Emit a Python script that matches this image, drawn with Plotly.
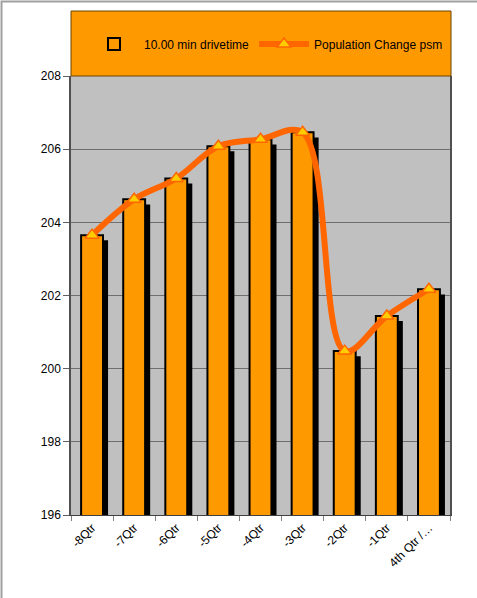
import plotly.graph_objects as go

categories = ["-8Qtr", "-7Qtr", "-6Qtr", "-5Qtr", "-4Qtr", "-3Qtr", "-2Qtr", "-1Qtr", "4th Qtr /…"]
drivetime = [203.65, 204.63, 205.2, 206.08, 206.27, 206.46, 200.48, 201.44, 202.17]
population_change = [203.65, 204.63, 205.2, 206.08, 206.27, 206.46, 200.48, 201.44, 202.17]
y_ticks = [196, 198, 200, 202, 204, 206, 208]

shadow_drop = 0.14
shadow_vals = [v - shadow_drop for v in drivetime]

fig = go.Figure()

fig.add_trace(go.Bar(
    x=categories, y=shadow_vals, width=0.52, offset=-0.14,
    marker=dict(color="#000000", line=dict(width=0)),
    showlegend=False, hoverinfo="skip",
))
fig.add_trace(go.Bar(
    x=categories, y=drivetime, width=0.52, offset=-0.26,
    name="10.00 min drivetime",
    marker=dict(color="#FF9900", line=dict(color="#000000", width=2)),
))
fig.add_trace(go.Scatter(
    x=categories, y=population_change, mode="lines+markers",
    name="Population Change psm",
    line=dict(color="#FF6600", width=6, shape="spline", smoothing=1),
    marker=dict(symbol="triangle-up", size=12, color="#FFCC00",
                line=dict(color="#FF6600", width=1.5)),
))

W, H = 477, 598
L, R, T, B = 71, 27, 76, 83
pw = W - L - R
ph = H - T - B

def px_x(p):
    return (p - L) / pw

def px_y(p):
    return (H - B - p) / ph

shapes = [
    # legend box
    dict(type="rect", xref="paper", yref="paper",
         x0=0, x1=px_x(451), y0=1, y1=px_y(11),
         fillcolor="#FF9900", line=dict(color="#6b4500", width=1), layer="below"),
    # figure border (left and top edges visible)
    dict(type="rect", xref="paper", yref="paper",
         x0=px_x(1.5), x1=px_x(W + 10), y0=px_y(H + 10), y1=px_y(1.5),
         fillcolor="rgba(0,0,0,0)", line=dict(color="#A0A0A0", width=2)),
]

fig.update_layout(
    width=W, height=H,
    margin=dict(l=L, r=R, t=T, b=B),
    paper_bgcolor="#FFFFFF",
    plot_bgcolor="#C0C0C0",
    barmode="overlay",
    bargap=0.4,
    font=dict(family="Liberation Sans, Arial, sans-serif", color="#000000", size=12),
    shapes=shapes,
    showlegend=True,
    legend=dict(orientation="h", x=px_x(84), xanchor="left", y=px_y(44), yanchor="middle",
                bgcolor="rgba(0,0,0,0)", font=dict(size=12), itemwidth=50,
                traceorder="normal"),
    xaxis=dict(
        type="category", tickangle=-45, tickfont=dict(size=12),
        ticks="outside", ticklen=5, tickcolor="#808080", tickson="boundaries",
        showline=True, linecolor="#404040", linewidth=1,
        showgrid=False, range=[-0.5, 8.5], automargin=False,
    ),
    yaxis=dict(
        range=[196, 208], tickvals=y_ticks, ticktext=[str(v) for v in y_ticks],
        ticks="outside", ticklen=6, tickcolor="#606060",
        showgrid=True, gridcolor="#6E6E6E", gridwidth=1,
        showline=True, linecolor="#505050", linewidth=1.5, mirror=True,
        zeroline=False, tickfont=dict(size=12), automargin=False,
    ),
)

fig.write_html(
    "out.html",
    config={"displayModeBar": False},
    post_script="document.body.style.margin='0';document.body.style.overflow='hidden';",
)
